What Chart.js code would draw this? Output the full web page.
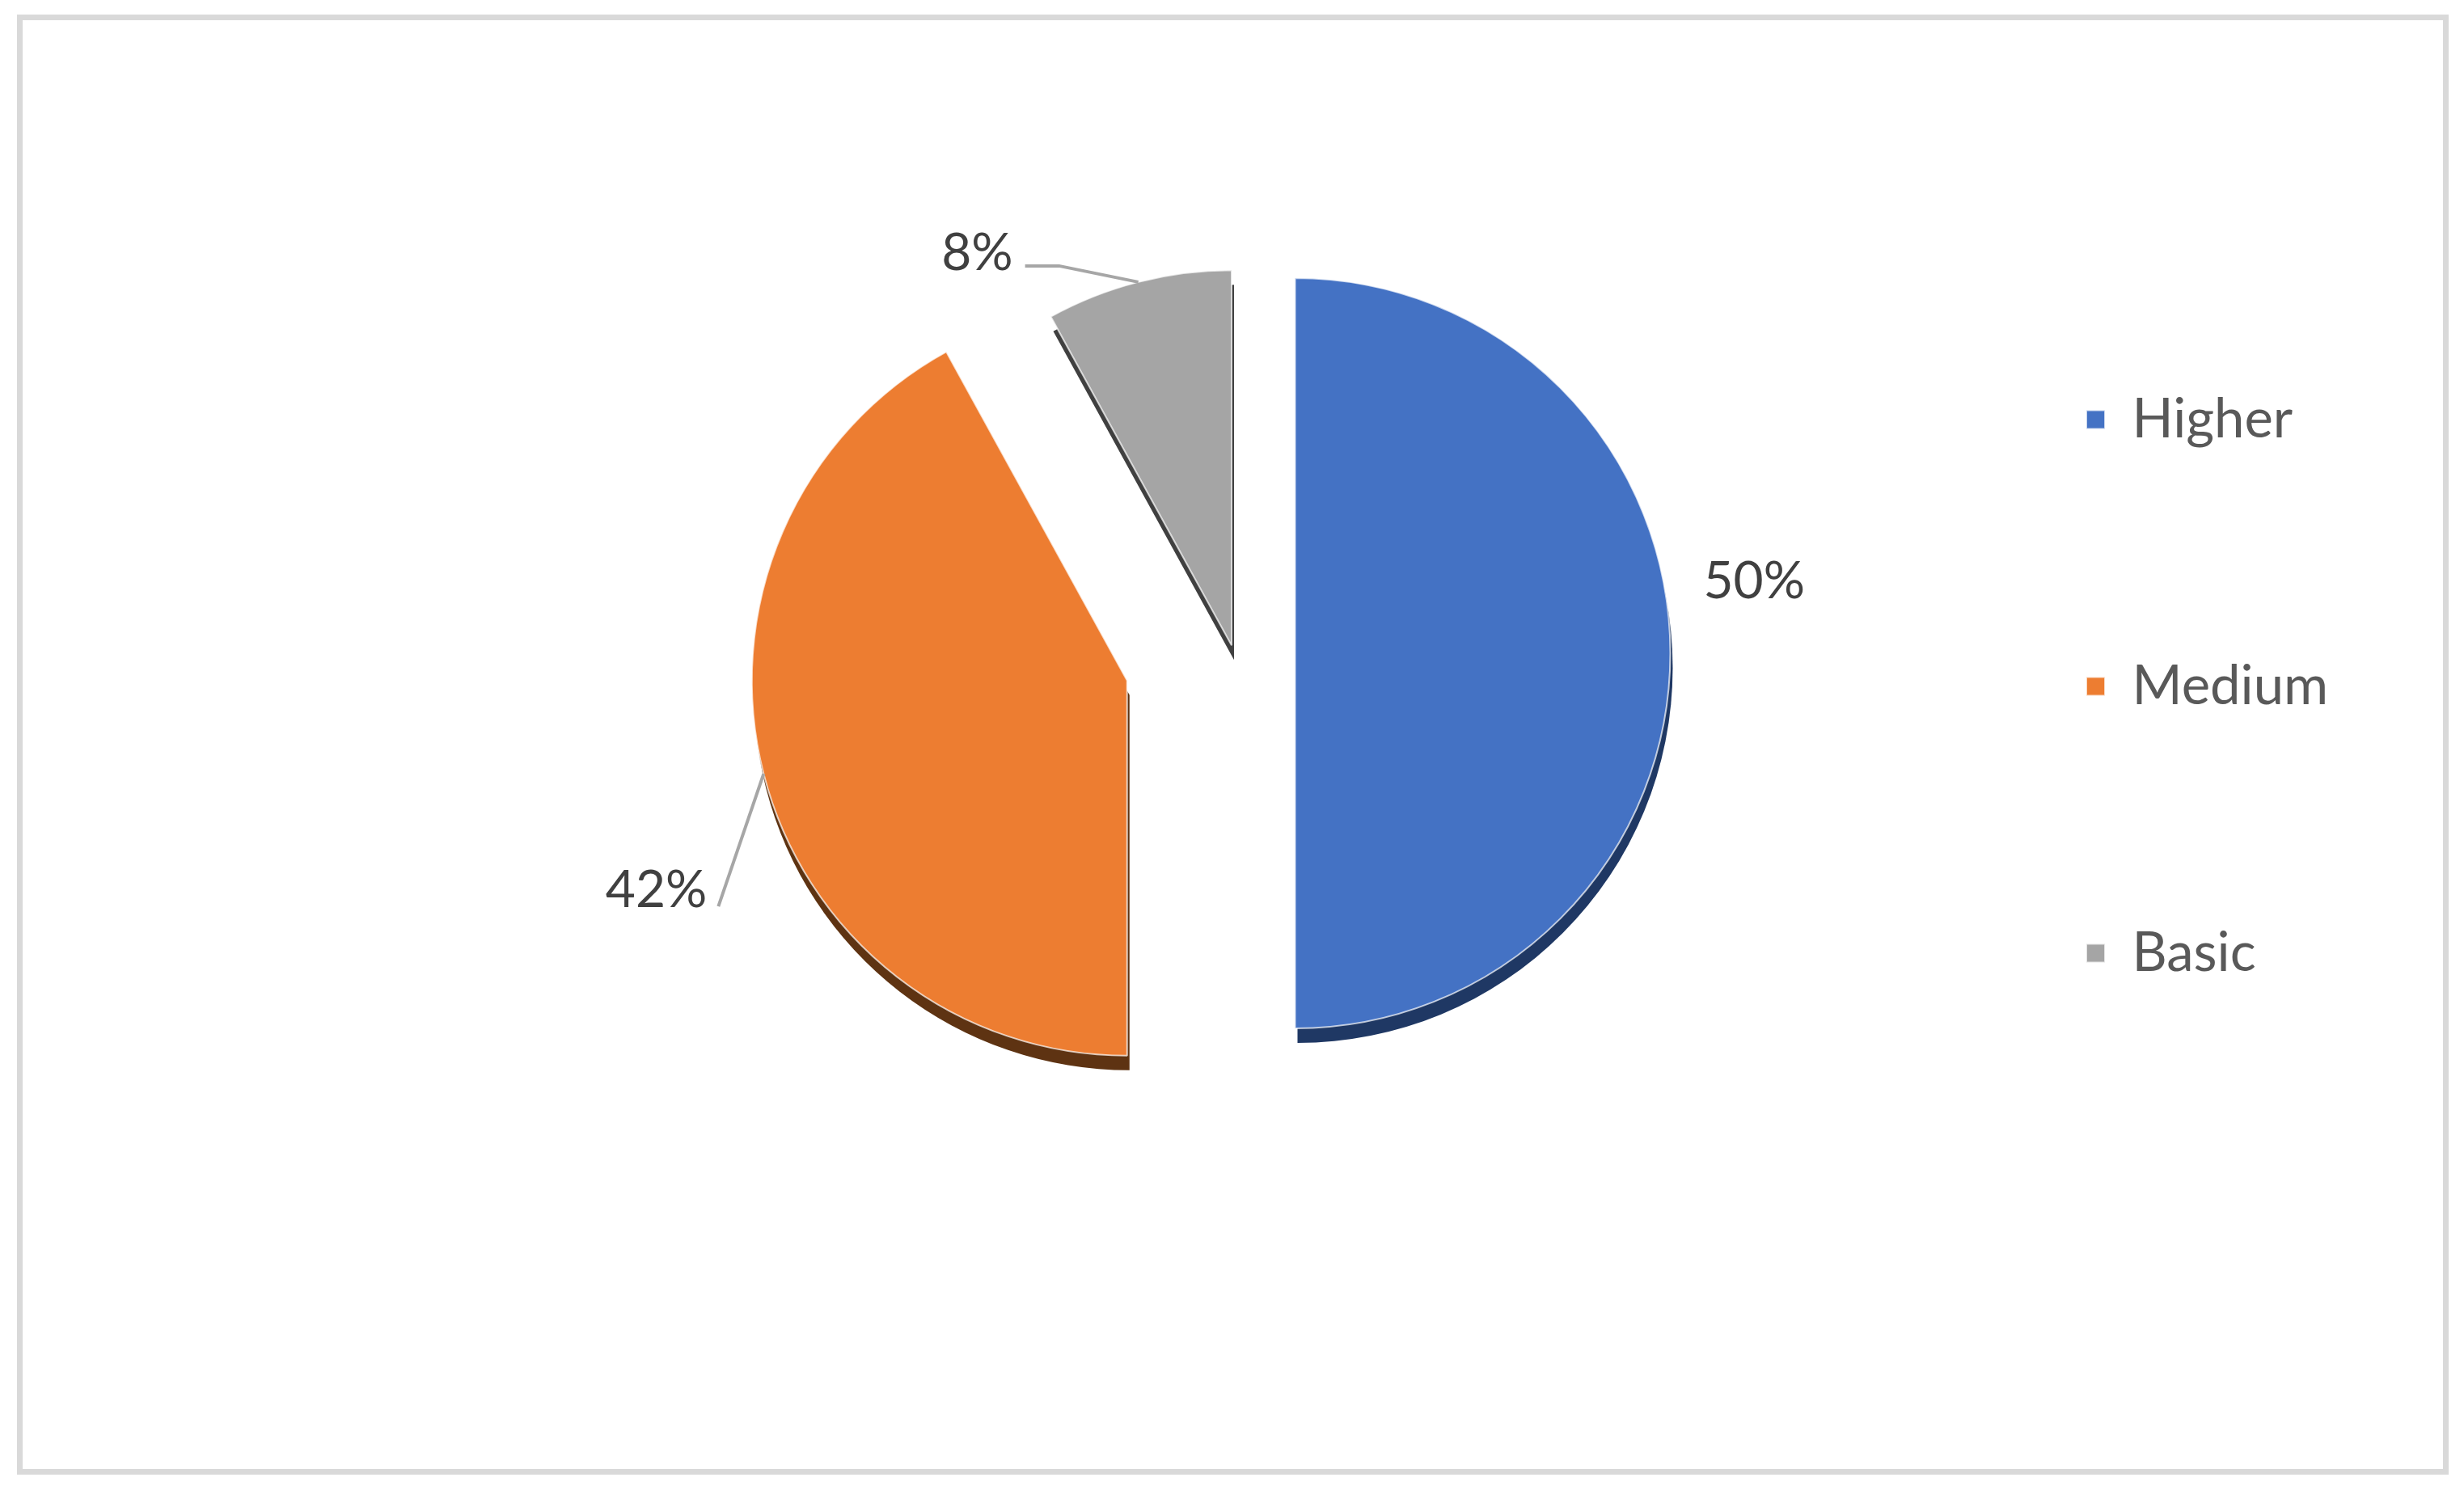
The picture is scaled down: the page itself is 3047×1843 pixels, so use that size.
<!DOCTYPE html>
<html>
<head>
<meta charset="utf-8">
<script src="https://cdn.jsdelivr.net/npm/chart.js@4/dist/chart.umd.min.js"></script>
<style>
  html, body { margin: 0; padding: 0; background: #fff; }
  body { width: 3047px; height: 1843px; position: relative; overflow: hidden; }
  #frame { position: absolute; left: 21px; top: 18px; width: 2993px; height: 1792px; border: 7px solid #d9d9d9; }
  #piechart { position: absolute; left: 0; top: 0; }
</style>
</head>
<body>
<div id="frame"></div>
<canvas id="piechart" width="3047" height="1843"></canvas>
<script>
// categories and shares (percent)
const levels = ['Higher', 'Medium', 'Basic']
const shares = [50, 42, 8]
const shareLabels = ['50%', '42%', '8%']

const sliceColors = ['#4472c4', '#ed7d31', '#a5a5a5']
const shadowColors = ['#1f3864', '#5e3312', '#404040']

// how far each slice is pulled out of the pie (px)
const explode = [76, 136, 10]

// where each percent label sits, relative to the outer edge point of its slice
// lead: leader line points, text: [x, y, align] of the label baseline
const labelPlace = [
  { lead: [], text: [41, -68, 'left'] },
  { lead: [[-56, 164]], text: [-70, 165, 'right'] },
  { lead: [[-98, -20], [-140, -20]], text: [-155, -15, 'right'] }
]

function midAngle(arc) {
  const p = arc.getProps(['startAngle', 'endAngle'], true)
  return (p.startAngle + p.endAngle) / 2
}

function edgePoint(arc, i) {
  const p = arc.getProps(['x', 'y', 'outerRadius'], true)
  const mid = midAngle(arc)
  const r = p.outerRadius + explode[i]
  return { x: p.x + Math.cos(mid) * r, y: p.y + Math.sin(mid) * r }
}

//slices drawn pulled out, with a dark copy a bit lower like the office shadow
const explodedSlices = {
  id: 'explodedSlices',
  beforeDatasetDraw(chart, args) {
    const ctx = chart.ctx
    const meta = args.meta
    meta.data.forEach((arc, i) => {
      const mid = midAngle(arc)
      const keep = arc.options.backgroundColor
      const keepB = arc.options.borderWidth
      ctx.save()
      ctx.translate(Math.cos(mid) * explode[i] + 3, Math.sin(mid) * explode[i] + 18)
      arc.options.backgroundColor = shadowColors[i]
      arc.options.borderWidth = 0
      arc.draw(ctx)
      arc.options.backgroundColor = keep
      arc.options.borderWidth = keepB
      ctx.restore()
    })
    meta.data.forEach((arc, i) => {
      const mid = midAngle(arc)
      ctx.save()
      ctx.translate(Math.cos(mid) * explode[i], Math.sin(mid) * explode[i])
      arc.draw(ctx)
      ctx.restore()
    })
    return false
  }
}

const pctLabels = {
  id: 'pctLabels',
  afterDatasetsDraw(chart) {
    const ctx = chart.ctx
    const meta = chart.getDatasetMeta(0)
    meta.data.forEach((arc, i) => {
      const e = edgePoint(arc, i)
      const place = labelPlace[i]
      ctx.save()
      if (place.lead.length) {
        ctx.strokeStyle = '#a6a6a6'
        ctx.lineWidth = 4
        ctx.beginPath()
        ctx.moveTo(e.x, e.y)
        place.lead.forEach(pt => ctx.lineTo(e.x + pt[0], e.y + pt[1]))
        ctx.stroke()
      }
      ctx.fillStyle = '#404040'
      ctx.font = '64px Lato'
      ctx.textAlign = place.text[2]
      ctx.textBaseline = 'alphabetic'
      ctx.fillText(shareLabels[i], e.x + place.text[0], e.y + place.text[1])
      ctx.restore()
    })
  }
}

Chart.defaults.font.family = 'Lato'

var ctx = document.getElementById('piechart')

// legend width depends on the longest label, so right padding is worked out from it
var mctx = ctx.getContext('2d')
mctx.font = '67px Lato'
var widest = Math.max(...levels.map(s => mctx.measureText(s).width))
var legendWidth = 263 + 23 + 33.5 + widest + 10
var padRight = 3047 - 2317 - legendWidth

var pieChart = new Chart(ctx, {
  type: 'pie',
  data: {
    labels: levels,
    datasets: [{
      data: shares,
      backgroundColor: sliceColors,
      borderColor: 'rgba(255,255,255,0.7)',
      borderWidth: 2,
      radius: 464,
      clip: false
    }]
  },
  options: {
    responsive: false,
    animation: false,
    devicePixelRatio: 1,
    layout: { padding: { left: 734, right: padRight, top: 123, bottom: 350 } },
    plugins: {
      tooltip: { enabled: false },
      legend: {
        position: 'right',
        align: 'center',
        title: { display: true, text: '', font: { size: 10, lineHeight: 1 }, padding: { top: 72, bottom: 0 } },
        labels: {
          boxWidth: 23,
          boxHeight: 23,
          padding: 263,
          color: '#595959',
          font: { family: 'Lato', size: 67 }
        }
      }
    }
  },
  plugins: [explodedSlices, pctLabels]
})
</script>
</body>
</html>
